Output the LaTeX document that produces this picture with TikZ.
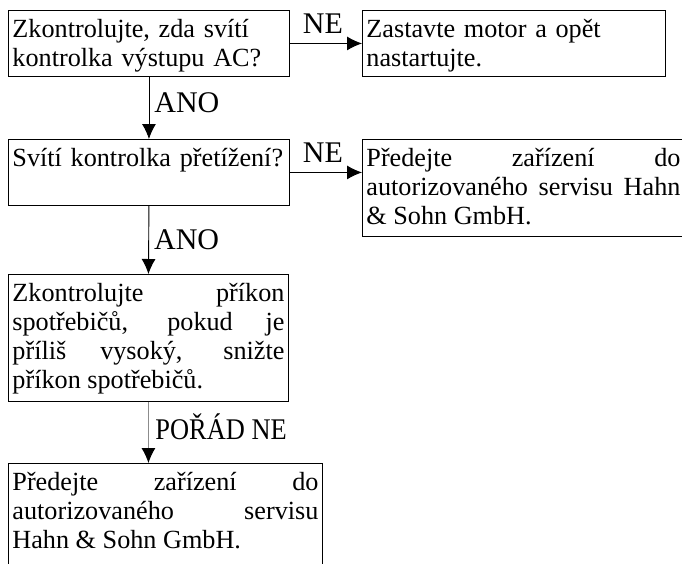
\documentclass[tikz,border=0pt]{standalone}
\usepackage{fontspec}
\setmainfont{Liberation Serif}
\usetikzlibrary{arrows.meta}

\begin{document}
\begin{tikzpicture}[x=1pt,y=-1pt,line width=0.9pt,
  box/.style={draw,anchor=north west,inner xsep=4pt,inner ysep=6pt,text height=21pt,font=\fontsize{26.2}{29}\selectfont},
  lbl/.style={inner sep=3pt,font=\fontsize{30}{32}\selectfont},
  flow/.style={-{Latex[length=15pt,width=14pt,color=black]}}]
\useasboundingbox (0,0) rectangle (682,563);
% boxes
\node[box,align=left,text width=273pt,text depth=33pt] (ac) at (8,10) {Zkontrolujte, zda svítí\\kontrolka výstupu AC?};
\node[box,align=left,text width=295pt,text depth=33pt] (restart) at (362,10) {Zastavte motor a opět\\nastartujte.};
\node[box,align=left,text width=273pt,text depth=33pt] (overload) at (8,139) {\mbox{Svítí kontrolka přetížení?}};
\node[box,align=justify,text width=314pt,text depth=64pt] (service1) at (362,139) {Předejte zařízení do\linebreak autorizovaného servisu Hahn \& Sohn GmbH.};
\node[box,align=justify,text width=272pt,text depth=94pt] (power) at (8,274) {Zkontrolujte příkon\linebreak spotřebičů, pokud je\linebreak příliš vysoký, snižte\linebreak příkon spotřebičů.};
\node[box,align=justify,text width=306pt,text depth=120pt] (service2) at (8,463) {Předejte zařízení do\linebreak autorizovaného servisu\linebreak Hahn \& Sohn GmbH.};
% connectors
\draw[flow] (ac.east)--node[lbl,above=7pt,xshift=-3pt] {NE} (restart.west);
\draw[flow] (ac.south)--node[lbl,right=2pt,pos=0.42] {ANO} (overload.north);
\draw[flow] (overload.east)--node[lbl,above=7pt,xshift=-3pt] {NE} (overload.east -| service1.west);
\draw[flow] (overload.south)--node[lbl,right=2pt] {ANO} (power.north);
\draw[flow,black!45] (power.south)--node[lbl,right=4pt,pos=0.4,black,xscale=0.88] {POŘÁD NE} (power.south |- service2.north);
\end{tikzpicture}
\end{document}
